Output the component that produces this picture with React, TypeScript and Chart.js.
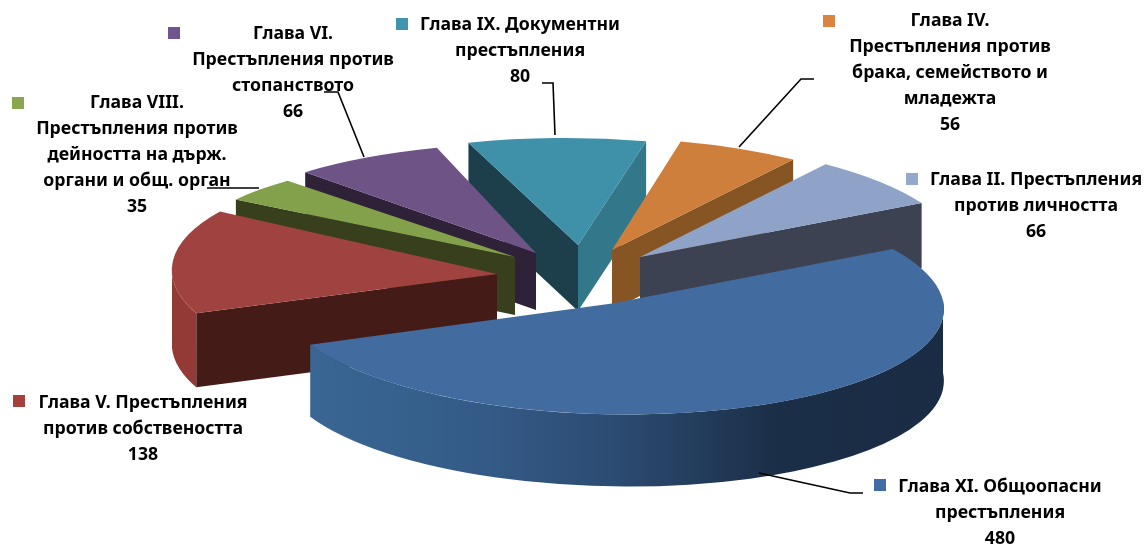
import React, { useEffect, useRef } from "react";
import { Chart, registerables } from "chart.js";

Chart.register(...registerables);

// ---- data (clockwise from the upper right) ----
const categories = [
  "Глава XI. Общоопасни престъпления",
  "Глава V. Престъпления против собствеността",
  "Глава VIII. Престъпления против дейността на държ. органи и общ. орган",
  "Глава VI. Престъпления против стопанството",
  "Глава IX. Документни престъпления",
  "Глава IV. Престъпления против брака, семейството и младежта",
  "Глава II. Престъпления против личността",
];
const values = [480, 138, 35, 66, 80, 56, 66];
const labelLines = [
  ["Глава XI. Общоопасни", "престъпления", "480"],
  ["Глава V. Престъпления", "против собствеността", "138"],
  ["Глава VIII.", "Престъпления против", "дейността на държ.", "органи и общ. орган", "35"],
  ["Глава VI.", "Престъпления против", "стопанството", "66"],
  ["Глава IX. Документни", "престъпления", "80"],
  ["Глава IV.", "Престъпления против", "брака, семейството и", "младежта", "56"],
  ["Глава II. Престъпления", "против личността", "66"],
];

// ---- styling ----
const topColors = ["#426c9f", "#a04340", "#83a04b", "#6e5387", "#3f90a9", "#ce7f3b", "#8ea3c7"];
const keyColors = ["#426ca5", "#a5403d", "#8aa64e", "#72558f", "#4094ad", "#d9853f", "#94a8cd"];
const startFaceColors = ["#333", "#451b18", "#373f1d", "#2e2138", "#1c3f4b", "#875523", "#3c4252"];
const endFaceColors = ["#333", "#451b18", "#373f1d", "#2e2138", "#33788a", "#875523", "#3c4252"];
const rimStops: [number, string][][] = [
  [[0, "#3a6896"], [0.3, "#345b88"], [0.52, "#2b4a70"], [0.75, "#1b2e47"], [1, "#1a2c44"]],
  [[0, "#943a36"], [1, "#943a36"]],
  [[0, "#373f1d"], [1, "#373f1d"]],
  [[0, "#2e2138"], [1, "#2e2138"]],
  [[0, "#33788a"], [1, "#33788a"]],
  [[0, "#875523"], [1, "#875523"]],
  [[0, "#3c4252"], [1, "#3c4252"]],
];
// perspective of each exploded slice: apex, radii, shear, tilt, depth
const apexX = [612, 497, 515, 536, 578, 612, 640];
const apexY = [303.5, 274, 257, 253, 245, 250, 257];
const radiusX = [331, 325, 335, 340, 330, 322, 322];
const radiusY = [111, 113, 104, 110, 107, 112, 115];
const shear = [0.22, 0.1, 0, 0, 0.13, 0.1, 0.05];
const tilt = [-0.008, 0, 0, 0, 0, 0, 0];
const depth = [72, 74, 58, 57, 66, 60, 65];
const paintOrder = [4, 5, 3, 6, 2, 1, 0];

const labelCenterX = [1000, 143, 137, 293, 520, 950, 1036];
const labelFirstY = [487, 403, 103, 34, 25, 21, 180];
const keyX = [880, 19, 18, 174, 402, 829, 912];
const keyY = [485, 401, 103, 33, 24, 21, 179];
const lineHeight = 26;
const leaders: ([number, number][] | null)[] = [
  [[863, 493], [850, 493], [759, 473]],
  null,
  [[207, 188], [259, 188]],
  [[324, 92], [338, 92], [364, 157]],
  [[542, 83], [553, 83], [555, 135]],
  [[814, 79], [801, 79], [739, 147]],
  null,
];
const FONT = 'bold 17.7px "Noto Sans"';

function sliceMatrix(el: any, i: number, dy: number) {
  const sx = radiusX[i] / el.outerRadius;
  const sy = radiusY[i] / el.outerRadius;
  const c = shear[i] * sy;
  const b = tilt[i] * sx;
  return {
    a: sx,
    b,
    c,
    d: sy,
    e: apexX[i] - el.x * sx - el.y * c,
    f: apexY[i] - el.x * b - el.y * sy + dy,
  };
}
function setM(ctx: CanvasRenderingContext2D, m: any) {
  ctx.setTransform(m.a, m.b, m.c, m.d, m.e, m.f);
}

const pie3d = {
  id: "pie3d",
  beforeDatasetsDraw(chart: any) {
    const ctx: CanvasRenderingContext2D = chart.ctx;
    const arcs = chart.getDatasetMeta(0).data;
    ctx.save();
    for (const i of paintOrder) {
      const el = arcs[i];
      const top = sliceMatrix(el, i, 0);
      const bottom = sliceMatrix(el, i, depth[i]);
      const R = el.outerRadius;
      const a = el.startAngle;
      const b = el.endAngle;
      const radial = (ang: number, color: string) => {
        ctx.beginPath();
        setM(ctx, top);
        ctx.moveTo(el.x, el.y);
        ctx.lineTo(el.x + R * Math.cos(ang), el.y + R * Math.sin(ang));
        setM(ctx, bottom);
        ctx.lineTo(el.x + R * Math.cos(ang), el.y + R * Math.sin(ang));
        ctx.lineTo(el.x, el.y);
        ctx.closePath();
        ctx.resetTransform();
        ctx.fillStyle = color;
        ctx.fill();
      };
      if (Math.sin(a - Math.PI / 2) > 0) radial(a, startFaceColors[i]);
      if (Math.sin(b + Math.PI / 2) > 0) radial(b, endFaceColors[i]);
      const lo = Math.max(a, 0);
      const hi = Math.min(b, Math.PI);
      if (lo < hi) {
        ctx.beginPath();
        setM(ctx, top);
        ctx.arc(el.x, el.y, R, lo, hi);
        setM(ctx, bottom);
        ctx.arc(el.x, el.y, R, hi, lo, true);
        ctx.closePath();
        ctx.resetTransform();
        const g = ctx.createLinearGradient(apexX[i] - radiusX[i], 0, apexX[i] + radiusX[i], 0);
        rimStops[i].forEach(([p, col]) => g.addColorStop(p, col));
        ctx.fillStyle = g;
        ctx.fill();
      }
      setM(ctx, top);
      el.draw(ctx);
      ctx.resetTransform();
    }
    ctx.restore();
    return false;
  },
  afterDraw(chart: any) {
    const ctx: CanvasRenderingContext2D = chart.ctx;
    ctx.save();
    ctx.font = FONT;
    ctx.textAlign = "center";
    ctx.textBaseline = "middle";
    labelLines.forEach((lines, i) => {
      ctx.fillStyle = keyColors[i];
      ctx.fillRect(keyX[i] - 6, keyY[i] - 6, 12, 12);
      ctx.fillStyle = "#000000";
      lines.forEach((t, n) => ctx.fillText(t, labelCenterX[i], labelFirstY[i] + n * lineHeight));
      const path = leaders[i];
      if (path) {
        ctx.beginPath();
        path.forEach(([x, y], n) => (n ? ctx.lineTo(x, y) : ctx.moveTo(x, y)));
        ctx.strokeStyle = "#000000";
        ctx.lineWidth = 1.6;
        ctx.stroke();
      }
    });
    ctx.restore();
  },
};

export default function App() {
  const ref = useRef<HTMLCanvasElement>(null);
  useEffect(() => {
    const chart = new Chart(ref.current!, {
      type: "pie",
      data: {
        labels: categories,
        datasets: [{ data: values, backgroundColor: topColors, borderWidth: 0 }],
      },
      options: {
        responsive: false,
        animation: false,
        rotation: 62,
        layout: { padding: 0 },
        plugins: { legend: { display: false }, tooltip: { enabled: false } },
      },
      plugins: [pie3d as any],
    });
    return () => chart.destroy();
  }, []);
  return (
    <div style={{ position: "absolute", left: 0, top: 0, width: 1144, height: 545, background: "#fff" }}>
      <canvas ref={ref} width={1144} height={545} style={{ display: "block", filter: "blur(0.45px)" }} />
    </div>
  );
}
